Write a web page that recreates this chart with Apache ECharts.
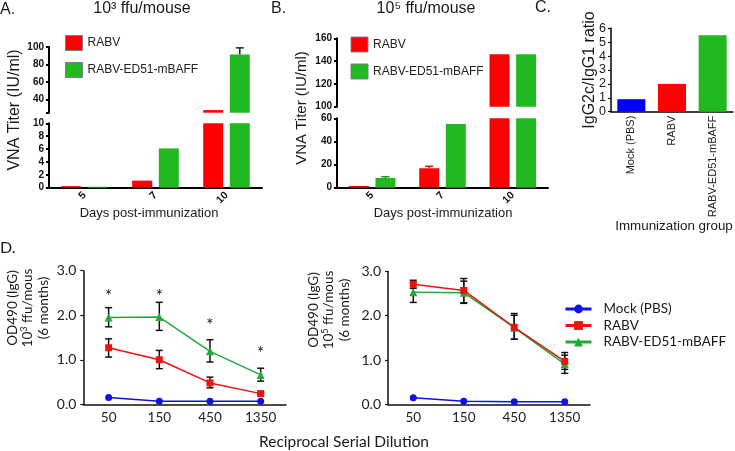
<!DOCTYPE html>
<html><head><meta charset="utf-8">
<script src="https://cdn.jsdelivr.net/npm/echarts@6/dist/echarts.min.js"></script>
<style>html,body{margin:0;padding:0;background:#fff}#c{width:735px;height:451px}</style>
</head><body><div id="c"></div>
<script>
// ---------- DATA ----------
const days = ['5', '7', '10'];
// Panel A (10^3 ffu/mouse)
const aRabv = [0.25, 1.1, 28];
const aBaff = [0.15, 6.1, 91.5];
const aRabvErrTop = [null, null, null];
const aBaffErrTop = [null, null, 99];
// Panel B (10^5 ffu/mouse)
const bRabv = [1.5, 16.8, 146];
const bBaff = [8.5, 55, 146];
const bRabvErrTop = [null, 18.5, null];
const bBaffErrTop = [9.5, null, null];
// Panel C
const groupsC = ['Mock (PBS)', 'RABV', 'RABV-ED51-mBAFF'];
const ratioC = [0.9, 2.0, 5.5];
// Panel D
const dilutions = ['50', '150', '450', '1350'];
const dLeftMock = [0.15, 0.07, 0.07, 0.07];
const dLeftRabv = [1.27, 1.0, 0.48, 0.24];
const dLeftRabvLo = [1.06, 0.80, 0.37, 0.22];
const dLeftRabvHi = [1.47, 1.21, 0.61, 0.26];
const dLeftBaff = [1.95, 1.96, 1.19, 0.66];
const dLeftBaffLo = [1.74, 1.66, 0.95, 0.52];
const dLeftBaffHi = [2.17, 2.29, 1.45, 0.81];
const dLeftStars = [2.5, 2.5, 1.85, 1.22];
const dRightMock = [0.15, 0.07, 0.06, 0.06];
const dRightRabv = [2.71, 2.57, 1.74, 0.97];
const dRightRabvLo = [2.62, 2.29, 1.47, 0.79];
const dRightRabvHi = [2.80, 2.84, 2.05, 1.17];
const dRightBaff = [2.53, 2.52, 1.73, 0.91];
const dRightBaffLo = [2.30, 2.28, 1.47, 0.70];
const dRightBaffHi = [2.74, 2.78, 2.01, 1.11];

// ---------- STYLE ----------
const LS = '"Liberation Sans", Arial, sans-serif';
const LT = 'Lato, "Open Sans", sans-serif';
const RED = '#ff0000', GREEN = '#22b822', BLUE = '#0000ff';
const DRED = '#f01010', DGREEN = '#22aa3a', DBLUE = '#1010e8';
const BW = 20, GAPPX = 6.6;
const BOFF = (BW + GAPPX) / 2;

const chart = echarts.init(document.getElementById('c'), null, {renderer: 'canvas'});

const grids = [
  {left: 49, top: 47, width: 213, height: 65.7},      // A upper
  {left: 49, top: 123.3, width: 213, height: 64.4},   // A lower
  {left: 337, top: 38.3, width: 211, height: 68.4},   // B upper
  {left: 337, top: 118.3, width: 211, height: 69.4},  // B lower
  {left: 611, top: 28.3, width: 122, height: 83.4},   // C
  {left: 83.3, top: 270.7, width: 202.7, height: 133.6}, // D left
  {left: 388, top: 271.4, width: 202, height: 133}    // D right
].map(g => Object.assign({containLabel: false, outerBoundsMode: 'none'}, g));

const abAxisLine = {lineStyle: {color: '#000', width: 2}};
const abTick = {length: 3, lineStyle: {color: '#000', width: 2}};
const abLabel = {fontFamily: LS, fontWeight: 'bold', fontSize: 10, color: '#111', margin: 5};

function hiddenCat(gi, data) {
  return {type: 'category', gridIndex: gi, data, show: false, boundaryGap: true};
}
function abCat(gi, data) {
  return {type: 'category', gridIndex: gi, data, boundaryGap: true,
    axisLine: abAxisLine, axisTick: {alignWithLabel: true, length: 4, lineStyle: {color: '#000', width: 1.5}},
    axisLabel: Object.assign({}, abLabel, {rotate: 45, margin: 6, fontSize: 10.5})};
}
function abVal(gi, min, max, interval, extra) {
  return Object.assign({type: 'value', gridIndex: gi, min, max, interval,
    axisLine: Object.assign({show: true}, abAxisLine), axisTick: Object.assign({show: true}, abTick),
    axisLabel: abLabel, splitLine: {show: false}}, extra || {});
}
const dAxisLine = {show: true, lineStyle: {color: '#111', width: 1.5}};

const xAxes = [
  hiddenCat(0, days),
  abCat(1, days),
  hiddenCat(2, days),
  abCat(3, days),
  {type: 'category', gridIndex: 4, data: groupsC, boundaryGap: true,
    axisLine: {lineStyle: {color: '#000', width: 1.5}}, axisTick: {show: false},
    axisLabel: {rotate: 90, fontFamily: LS, fontSize: 11, color: '#222', margin: 4}},
  {type: 'category', gridIndex: 5, data: dilutions, boundaryGap: true, axisLine: dAxisLine, axisTick: {show: false},
    axisLabel: {fontFamily: LT, fontSize: 13.5, color: '#222', margin: 6}},
  {type: 'category', gridIndex: 6, data: dilutions, boundaryGap: true, axisLine: dAxisLine, axisTick: {show: false},
    axisLabel: {fontFamily: LT, fontSize: 13.5, color: '#222', margin: 6}}
];
const yAxes = [
  abVal(0, 25, 100, 20, {axisTick: Object.assign({show: true, customValues: [25, 40, 60, 80, 100]}, abTick),
    axisLabel: Object.assign({customValues: [40, 60, 80, 100]}, abLabel)}),
  abVal(1, 0, 10, 2),
  abVal(2, 100, 160, 20),
  abVal(3, 0, 60, 20),
  {type: 'value', gridIndex: 4, min: 0, max: 6, interval: 1, splitLine: {show: false},
    axisLine: {show: true, lineStyle: {color: '#000', width: 1.5}},
    axisTick: {show: true, length: 3, lineStyle: {color: '#000', width: 1.2}},
    axisLabel: {fontFamily: LS, fontSize: 12.5, color: '#222', margin: 5}},
  {type: 'value', gridIndex: 5, min: 0, max: 3, interval: 1, splitLine: {show: false}, axisLine: dAxisLine,
    axisTick: {show: true, length: 3, lineStyle: {color: '#111', width: 1.2}},
    axisLabel: {fontFamily: LT, fontSize: 14, color: '#222', margin: 7, formatter: v => v.toFixed(1)}},
  {type: 'value', gridIndex: 6, min: 0, max: 3, interval: 1, splitLine: {show: false}, axisLine: dAxisLine,
    axisTick: {show: true, length: 3, lineStyle: {color: '#111', width: 1.2}},
    axisLabel: {fontFamily: LT, fontSize: 14, color: '#222', margin: 7, formatter: v => v.toFixed(1)}}
];

function bar(ai, name, data, color) {
  return {type: 'bar', name, xAxisIndex: ai, yAxisIndex: ai, data, barWidth: BW, barGap: (GAPPX / BW * 100) + '%',
    itemStyle: {color}, clip: true, silent: true, animation: false};
}
function errTop(ai, vals, tops, side, color) {
  const data = [];
  vals.forEach((v, i) => { if (tops[i] != null) data.push([i, v, tops[i]]); });
  return {type: 'custom', xAxisIndex: ai, yAxisIndex: ai, data, silent: true, animation: false, clip: false, z: 5,
    renderItem: (p, api) => {
      const b = api.coord([api.value(0), api.value(1)]);
      const t = api.coord([api.value(0), api.value(2)]);
      const x = b[0] + side * BOFF;
      return {type: 'group', children: [
        {type: 'line', shape: {x1: x, y1: b[1], x2: x, y2: t[1]}, style: {stroke: color, lineWidth: 1.5}},
        {type: 'line', shape: {x1: x - 4, y1: t[1], x2: x + 4, y2: t[1]}, style: {stroke: color, lineWidth: 1.5}}
      ]};
    }};
}
function errBars(ai, lo, hi) {
  const data = lo.map((l, i) => [i, l, hi[i]]);
  return {type: 'custom', xAxisIndex: ai, yAxisIndex: ai, data, silent: true, animation: false, z: 1,
    renderItem: (p, api) => {
      const a = api.coord([api.value(0), api.value(1)]);
      const b = api.coord([api.value(0), api.value(2)]);
      const x = a[0], st = {stroke: '#111', lineWidth: 1.5};
      return {type: 'group', children: [
        {type: 'line', shape: {x1: x, y1: a[1], x2: x, y2: b[1]}, style: st},
        {type: 'line', shape: {x1: x - 3.5, y1: a[1], x2: x + 3.5, y2: a[1]}, style: st},
        {type: 'line', shape: {x1: x - 3.5, y1: b[1], x2: x + 3.5, y2: b[1]}, style: st}
      ]};
    }};
}
function dLine(ai, name, data, color, symbol, size) {
  return {type: 'line', name, xAxisIndex: ai, yAxisIndex: ai, data, symbol, symbolSize: size, showSymbol: true,
    lineStyle: {color, width: 1.5}, itemStyle: {color}, silent: true, animation: false, z: 3};
}
function stars(ai, ys) {
  return {type: 'custom', xAxisIndex: ai, yAxisIndex: ai, data: ys.map((y, i) => [i, y]), silent: true, animation: false,
    renderItem: (p, api) => {
      const c = api.coord([api.value(0), api.value(1)]);
      return {type: 'text', x: c[0], y: c[1] + 4, style: {text: '*', fontFamily: LT, fontSize: 17, fill: '#111', align: 'center', verticalAlign: 'middle'}};
    }};
}

const series = [
  bar(0, 'RABV', aRabv, RED), bar(0, 'RABV-ED51-mBAFF', aBaff, GREEN),
  bar(1, 'RABV', aRabv, RED), bar(1, 'RABV-ED51-mBAFF', aBaff, GREEN),
  errTop(0, aRabv, aRabvErrTop, -1, '#222'), errTop(0, aBaff, aBaffErrTop, 1, '#222'),
  bar(2, 'RABV', bRabv, RED), bar(2, 'RABV-ED51-mBAFF', bBaff, GREEN),
  bar(3, 'RABV', bRabv, RED), bar(3, 'RABV-ED51-mBAFF', bBaff, GREEN),
  errTop(3, bRabv, bRabvErrTop, -1, '#d01010'), errTop(3, bBaff, bBaffErrTop, 1, '#1a9a1a'),
  {type: 'bar', xAxisIndex: 4, yAxisIndex: 4, barWidth: 28, silent: true, animation: false,
    data: ratioC.map((v, i) => ({value: v, itemStyle: {color: [BLUE, RED, GREEN][i]}}))},
  errBars(5, dLeftRabvLo, dLeftRabvHi), errBars(5, dLeftBaffLo, dLeftBaffHi),
  dLine(5, 'Mock (PBS) ', dLeftMock, DBLUE, 'circle', 7),
  dLine(5, 'RABV ', dLeftRabv, DRED, 'rect', 7),
  dLine(5, 'RABV-ED51-mBAFF ', dLeftBaff, DGREEN, 'triangle', 8),
  stars(5, dLeftStars),
  errBars(6, dRightRabvLo, dRightRabvHi), errBars(6, dRightBaffLo, dRightBaffHi),
  dLine(6, 'Mock (PBS) ', dRightMock, DBLUE, 'circle', 7),
  dLine(6, 'RABV-ED51-mBAFF ', dRightBaff, DGREEN, 'triangle', 8),
  dLine(6, 'RABV ', dRightRabv, DRED, 'rect', 7)
];

const barLegend = (left, top) => ({left, top, orient: 'vertical', icon: 'rect', itemWidth: 17, itemHeight: 15, itemGap: 11,
  selectedMode: false, data: ['RABV', 'RABV-ED51-mBAFF'],
  itemStyle: {borderColor: '#86789a', borderWidth: 1},
  textStyle: {fontFamily: LS, fontSize: 12, color: '#222'}});

function txt(text, x, y, size, family, rot, extra) {
  return Object.assign({type: 'text', x, y, rotation: rot ? Math.PI / 2 : 0, silent: true,
    style: Object.assign({text, fontSize: size, fontFamily: family, fill: '#1a1a1a', align: 'center', verticalAlign: 'middle'}, extra || {})});
}
const supRich = {
  n: {fontSize: 13.5, fontFamily: LT, lineHeight: 15.5, verticalAlign: 'bottom'},
  s: {fontSize: 9, fontFamily: LT, lineHeight: 15.5, verticalAlign: 'top', padding: [0, 0, 0, 0]}
};
function dYName(pow, x, y) {
  return {type: 'text', x, y, rotation: Math.PI / 2, silent: true,
    style: {text: '{n|OD490 (IgG)}\n{n|10}{s|' + pow + '}{n| ffu/mous}\n{n|(6 months)}', rich: supRich,
      fill: '#1a1a1a', align: 'center', verticalAlign: 'middle'}};
}

chart.setOption({
  animation: false,
  backgroundColor: '#fff',
  grid: grids,
  xAxis: xAxes,
  yAxis: yAxes,
  series,
  legend: [
    barLegend(60, 30),
    barLegend(345.5, 31.5),
    {left: 559, top: 297, orient: 'vertical', itemWidth: 26, itemHeight: 11, itemGap: 2.5, selectedMode: false,
      data: ['Mock (PBS) ', 'RABV ', 'RABV-ED51-mBAFF '], formatter: n => n.trim(),
      lineStyle: {width: 3},
      textStyle: {fontFamily: LT, fontSize: 13.5, color: '#1a1a1a', lineHeight: 11, padding: [0, 0, 0, 7]}}
  ],
  graphic: [
    txt('A.', 0, 10, 16, LS, false, {align: 'left'}),
    txt('10\u00b3 ffu/mouse', 142, 9, 16, LS),
    txt('B.', 271, 9, 16, LS, false, {align: 'left'}),
    txt('10\u2075 ffu/mouse', 426, 9, 16, LS),
    txt('C.', 535, 8, 16, LS, false, {align: 'left'}),
    txt('VNA Titer (IU/ml)', 15, 110, 16, LS, true),
    txt('VNA Titer (IU/ml)', 302, 108, 15, LS, true),
    txt('Days post-immunization', 149, 213, 13, LS),
    txt('Days post-immunization', 443, 213, 13, LS),
    txt('IgG2c/IgG1 ratio', 590, 70, 16, LS, true),
    txt('Immunization group', 674, 226, 13.4, LS),
    txt('D.', 0, 248, 16, LT, false, {align: 'left'}),
    dYName('3', 27, 308),
    dYName('5', 328, 310),
    txt('Reciprocal Serial Dilution', 344, 442, 15.5, LT)
  ]
});
</script>
</body></html>
